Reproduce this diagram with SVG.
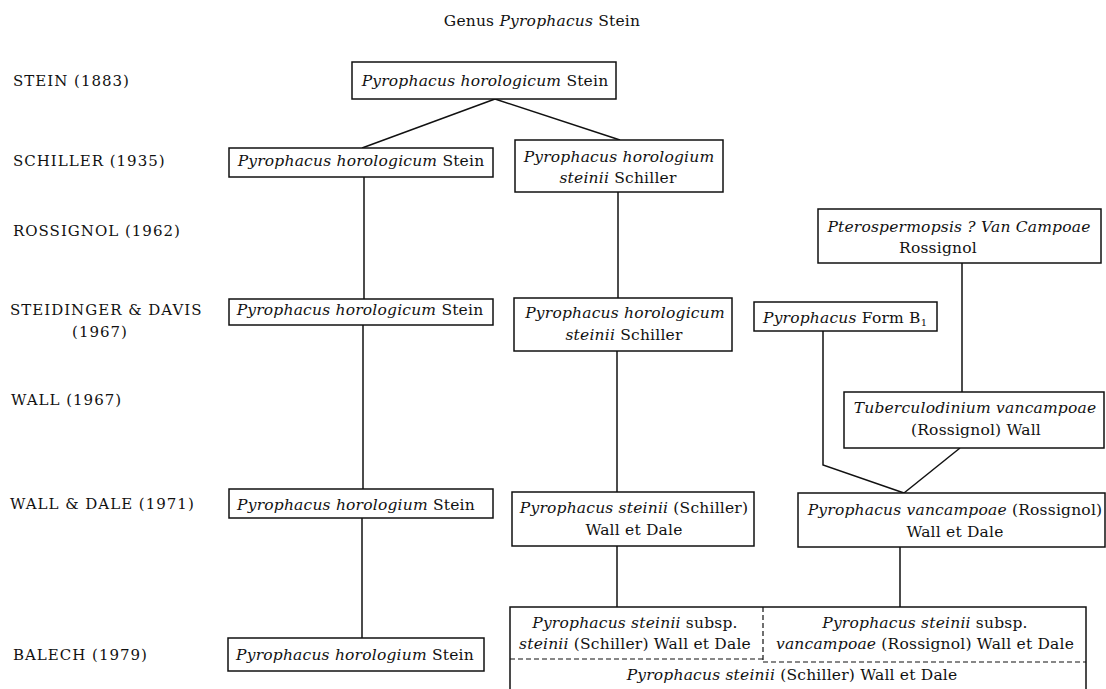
<svg xmlns="http://www.w3.org/2000/svg" width="1106" height="689" viewBox="0 0 1106 689">
<style>
text{font-family:"DejaVu Serif","Liberation Serif",serif;font-size:15.5px;letter-spacing:0.2px;fill:#111}
.lab{letter-spacing:1px;font-size:15px}
.c{text-anchor:middle}
.i{font-style:italic}
.box{fill:#fff;stroke:#111;stroke-width:1.5}
.ln{fill:none;stroke:#111;stroke-width:1.5}
.dash{fill:none;stroke:#111;stroke-width:1.2;stroke-dasharray:5 3}
</style>
<rect width="1106" height="689" fill="#fff"/>
<text class="c" x="542" y="26">Genus <tspan class="i">Pyrophacus</tspan> Stein</text>
<g id="labels">
<text class="lab" x="13" y="86">STEIN (1883)</text>
<text class="lab" x="13" y="166">SCHILLER (1935)</text>
<text class="lab" x="13" y="236">ROSSIGNOL (1962)</text>
<text class="lab" x="10" y="315">STEIDINGER &amp; DAVIS</text>
<text class="lab c" x="100" y="337">(1967)</text>
<text class="lab" x="11" y="405">WALL (1967)</text>
<text class="lab" x="10" y="509">WALL &amp; DALE (1971)</text>
<text class="lab" x="13" y="660">BALECH (1979)</text>
</g>
<g id="connectors">
<line class="ln" x1="495" y1="99" x2="362" y2="148"/>
<line class="ln" x1="495" y1="99" x2="620" y2="140"/>
<line class="ln" x1="364" y1="177" x2="364" y2="299"/>
<line class="ln" x1="363" y1="325" x2="363" y2="489"/>
<line class="ln" x1="362" y1="518" x2="362" y2="638"/>
<line class="ln" x1="618" y1="192" x2="618" y2="298"/>
<line class="ln" x1="617" y1="351" x2="617" y2="492"/>
<line class="ln" x1="617" y1="546" x2="617" y2="607"/>
<line class="ln" x1="962" y1="263" x2="962" y2="392"/>
<polyline class="ln" points="823,331 823,465 904,493"/>
<line class="ln" x1="960" y1="448" x2="904" y2="493"/>
<line class="ln" x1="900" y1="547" x2="900" y2="607"/>
</g>
<g id="n-top">
<rect class="box" x="352" y="62" width="264" height="37"/>
<text class="c" x="485" y="86"><tspan class="i">Pyrophacus horologicum</tspan> Stein</text>
</g>
<g id="n-schiller-1">
<rect class="box" x="229" y="148" width="264" height="29"/>
<text class="c" x="361" y="166"><tspan class="i">Pyrophacus horologicum</tspan> Stein</text>
</g>
<g id="n-schiller-2">
<rect class="box" x="515" y="140" width="208" height="52"/>
<text class="c i" x="619" y="162">Pyrophacus horologium</text>
<text class="c" x="618" y="183"><tspan class="i">steinii</tspan> Schiller</text>
</g>
<g id="n-rossignol">
<rect class="box" x="818" y="209" width="283" height="54"/>
<text class="c i" x="959" y="232">Pterospermopsis ? Van Campoae</text>
<text class="c" x="938" y="253">Rossignol</text>
</g>
<g id="n-steid-1">
<rect class="box" x="229" y="299" width="264" height="26"/>
<text class="c" x="360" y="315"><tspan class="i">Pyrophacus horologicum</tspan> Stein</text>
</g>
<g id="n-steid-2">
<rect class="box" x="514" y="298" width="218" height="53"/>
<text class="c i" x="625" y="318">Pyrophacus horologicum</text>
<text class="c" x="624" y="340"><tspan class="i">steinii</tspan> Schiller</text>
</g>
<g id="n-formb1">
<rect class="box" x="754" y="302" width="183" height="29"/>
<text x="763" y="323"><tspan class="i">Pyrophacus</tspan> Form B<tspan font-size="10" dy="3">1</tspan></text>
</g>
<g id="n-wall">
<rect class="box" x="844" y="392" width="260" height="56"/>
<text class="c i" x="975" y="413">Tuberculodinium vancampoae</text>
<text class="c" x="976" y="435">(Rossignol) Wall</text>
</g>
<g id="n-wd-1">
<rect class="box" x="229" y="489" width="264" height="29"/>
<text class="c" x="356" y="510"><tspan class="i">Pyrophacus horologium</tspan> Stein</text>
</g>
<g id="n-wd-2">
<rect class="box" x="512" y="492" width="242" height="54"/>
<text class="c" x="634" y="513"><tspan class="i">Pyrophacus steinii</tspan> (Schiller)</text>
<text class="c" x="634" y="535">Wall et Dale</text>
</g>
<g id="n-wd-3">
<rect class="box" x="798" y="493" width="307" height="54"/>
<text class="c" x="955" y="515"><tspan class="i">Pyrophacus vancampoae</tspan> (Rossignol)</text>
<text class="c" x="955" y="537">Wall et Dale</text>
</g>
<g id="n-balech-1">
<rect class="box" x="228" y="638" width="256" height="33"/>
<text class="c" x="355" y="660"><tspan class="i">Pyrophacus horologium</tspan> Stein</text>
</g>
<g id="n-balech-2">
<rect class="box" x="510" y="607" width="576" height="90"/>
<line class="dash" x1="763" y1="607" x2="763" y2="660"/>
<line class="dash" x1="510" y1="659" x2="763" y2="659"/>
<line class="dash" x1="763" y1="662" x2="1086" y2="662"/>
<text class="c" x="635" y="628"><tspan class="i">Pyrophacus steinii</tspan> subsp.</text>
<text class="c" x="635" y="649"><tspan class="i">steinii</tspan> (Schiller) Wall et Dale</text>
<text class="c" x="925" y="628"><tspan class="i">Pyrophacus steinii</tspan> subsp.</text>
<text class="c" x="925" y="649"><tspan class="i">vancampoae</tspan> (Rossignol) Wall et Dale</text>
<text class="c" x="792" y="680"><tspan class="i">Pyrophacus steinii</tspan> (Schiller) Wall et Dale</text>
</g>
</svg>
